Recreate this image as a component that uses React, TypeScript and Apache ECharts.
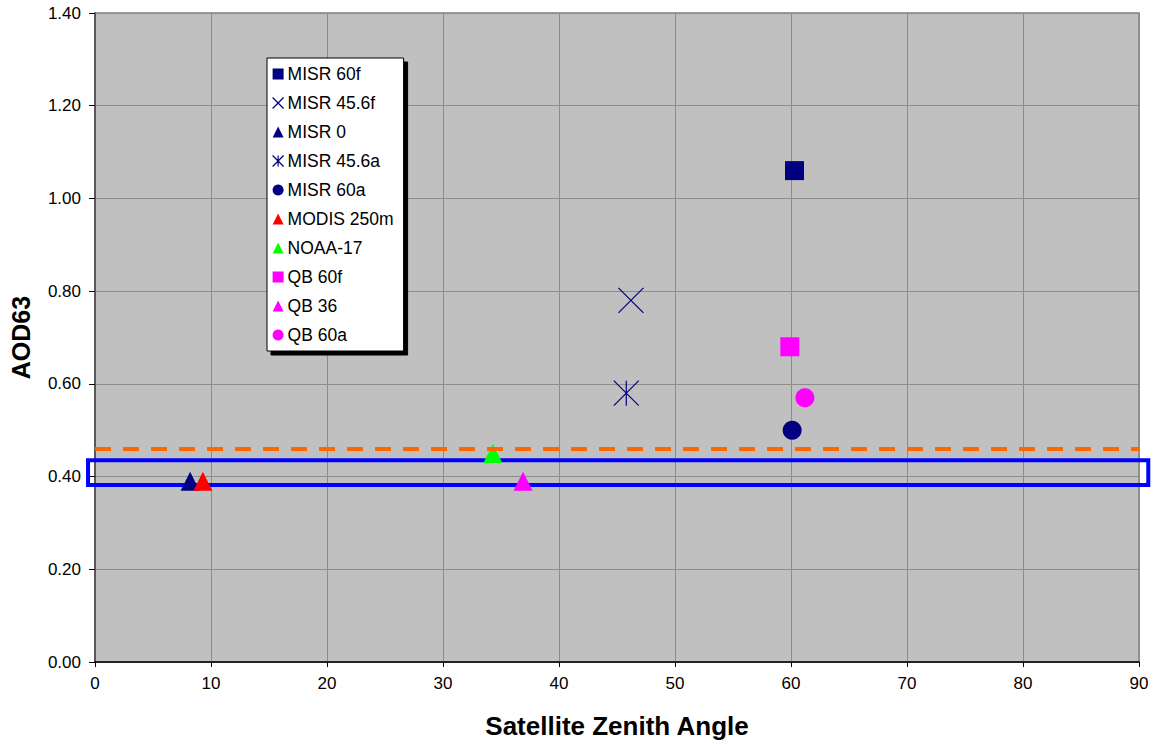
import React, { useEffect, useRef } from "react";
import * as echarts from "echarts";

const seriesNames = [
  "MISR 60f",
  "MISR 45.6f",
  "MISR 0",
  "MISR 45.6a",
  "MISR 60a",
  "MODIS 250m",
  "NOAA-17",
  "QB 60f",
  "QB 36",
  "QB 60a",
];
const zenithAngles = [60.3, 46.2, 8.2, 45.8, 60.1, 9.3, 34.3, 59.9, 36.9, 61.2];
const aodValues = [1.06, 0.78, 0.39, 0.58, 0.5, 0.39, 0.45, 0.68, 0.39, 0.57];

const xTicks = [0, 10, 20, 30, 40, 50, 60, 70, 80, 90];
const yTicks = [0, 0.2, 0.4, 0.6, 0.8, 1.0, 1.2, 1.4];

const thresholdAOD = 0.455;
const bandLow = 0.382;
const bandHigh = 0.435;
const bandXMin = -0.6;
const bandXMax = 90.8;

const NAVY = "#000080";
const MAGENTA = "#FF00FF";
const CROSS = "path://M0,0L10,10M10,0L0,10";
const STAR = "path://M0,0L10,10M10,0L0,10M5,0L5,10";

const styles = [
  { symbol: "rect", color: NAVY, size: 19, stroke: false },
  { symbol: CROSS, color: NAVY, size: 25, stroke: true },
  { symbol: "triangle", color: NAVY, size: 19, stroke: false },
  { symbol: STAR, color: NAVY, size: 25, stroke: true },
  { symbol: "circle", color: NAVY, size: 19, stroke: false },
  { symbol: "triangle", color: "#FF0000", size: 19, stroke: false },
  { symbol: "triangle", color: "#00FF00", size: 19, stroke: false },
  { symbol: "rect", color: MAGENTA, size: 19, stroke: false },
  { symbol: "triangle", color: MAGENTA, size: 19, stroke: false },
  { symbol: "circle", color: MAGENTA, size: 19, stroke: false },
];

const FONT = "Arial, 'Liberation Sans', sans-serif";

export default function App() {
  const ref = useRef<HTMLDivElement>(null);

  useEffect(() => {
    if (!ref.current) return;
    const chart = echarts.init(ref.current, undefined, { renderer: "svg" });

    const itemStyleOf = (s: any) =>
      s.stroke
        ? { color: "rgba(0,0,0,0)", borderColor: s.color, borderWidth: 1.2, opacity: 1 }
        : { color: s.color, borderWidth: 0, opacity: 1 };

    const series: any[] = seriesNames.map((name, i) => {
      const s = styles[i];
      const ser: any = {
        name,
        type: "scatter",
        z: 3,
        symbol: s.symbol,
        symbolSize: s.size,
        itemStyle: itemStyleOf(s),
        emphasis: { disabled: true },
        data: [[zenithAngles[i], aodValues[i]]],
      };
      if (i === 0) {
        ser.markLine = {
          silent: true,
          symbol: "none",
          label: { show: false },
          lineStyle: { color: "#FF6600", width: 4, type: [16, 12], opacity: 1 },
          data: [{ yAxis: thresholdAOD }],
        };
      }
      return ser;
    });

    chart.setOption({
      animation: false,
      backgroundColor: "#ffffff",
      textStyle: { fontFamily: FONT },
      grid: {
        left: 94.5,
        right: 17,
        top: 13,
        bottom: 79,
        show: true,
        backgroundColor: "#C0C0C0",
        borderColor: "#808080",
        borderWidth: 1.5,
      },
      legend: {
        orient: "vertical",
        left: 267,
        top: 58,
        backgroundColor: "#ffffff",
        borderColor: "#000000",
        borderWidth: 1,
        padding: [7, 10, 7, 5],
        itemWidth: 11,
        itemHeight: 11,
        itemGap: 11,
        shadowColor: "#000000",
        shadowOffsetX: 4,
        shadowOffsetY: 4,
        shadowBlur: 0,
        textStyle: { fontFamily: FONT, fontSize: 17.5, color: "#000", lineHeight: 18, padding: [0, 0, 0, -1] },
        data: seriesNames.map((name, i) => ({
          name,
          icon: styles[i].symbol,
          itemStyle: itemStyleOf(styles[i]),
        })),
      },
      xAxis: {
        type: "value",
        min: xTicks[0],
        max: xTicks[xTicks.length - 1],
        interval: 10,
        name: "Satellite Zenith Angle",
        nameLocation: "middle",
        nameGap: 51,
        nameTextStyle: { fontFamily: FONT, fontSize: 26, fontWeight: "bold", color: "#000" },
        axisLine: { show: true, onZero: false, lineStyle: { color: "#000", width: 1.5 } },
        axisTick: { show: true, length: 5, lineStyle: { color: "#000" } },
        axisLabel: { fontFamily: FONT, fontSize: 17, color: "#000", margin: 13 },
        splitLine: { show: true, lineStyle: { color: "#8c8c8c", width: 1 } },
      },
      yAxis: {
        type: "value",
        min: yTicks[0],
        max: yTicks[yTicks.length - 1],
        interval: 0.2,
        name: "AOD63",
        nameLocation: "middle",
        nameGap: 62,
        nameTextStyle: { fontFamily: FONT, fontSize: 25, fontWeight: "bold", color: "#000" },
        axisLine: { show: true, onZero: false, lineStyle: { color: "#444", width: 1.5 } },
        axisTick: { show: true, length: 6, lineStyle: { color: "#000" } },
        axisLabel: {
          fontFamily: FONT,
          fontSize: 17,
          color: "#000",
          margin: 14,
          formatter: (v: number) => v.toFixed(2),
        },
        splitLine: { show: true, lineStyle: { color: "#8c8c8c", width: 1 } },
      },
      series,
    });

    const p1 = chart.convertToPixel({ gridIndex: 0 }, [bandXMin, bandHigh]) as number[];
    const p2 = chart.convertToPixel({ gridIndex: 0 }, [bandXMax, bandLow]) as number[];
    chart.setOption({
      graphic: [
        {
          type: "rect",
          z: 2,
          shape: {
            x: p1[0],
            y: p1[1],
            width: p2[0] - p1[0],
            height: p2[1] - p1[1],
          },
          style: { fill: "none", stroke: "#0000FF", lineWidth: 4 },
          silent: true,
        },
      ],
    });

    return () => chart.dispose();
  }, []);

  return (
    <div
      ref={ref}
      style={{ position: "fixed", left: 0, top: 0, width: 1156, height: 744, background: "#fff" }}
    />
  );
}
